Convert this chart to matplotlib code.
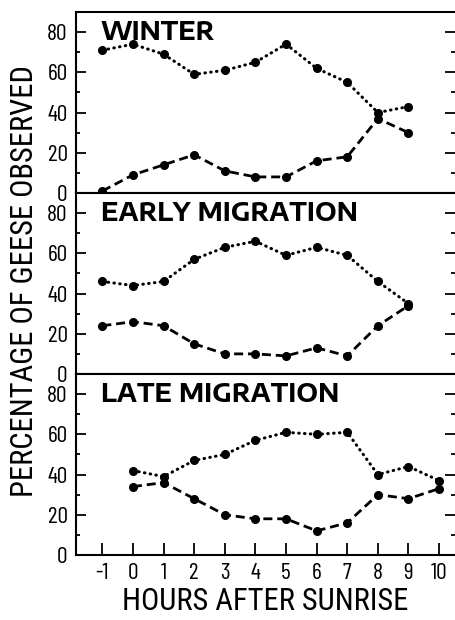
import matplotlib
matplotlib.use("Agg")
import matplotlib.pyplot as plt
from matplotlib.ticker import MultipleLocator

plt.rcParams["lines.scale_dashes"] = False

NARROW = ["Barlow Condensed", "DejaVu Sans"]
LABEL = ["Roboto Condensed", "DejaVu Sans"]
WIDE = ["Encode Sans Expanded", "DejaVu Sans"]

hours = [-1, 0, 1, 2, 3, 4, 5, 6, 7, 8, 9, 10]
xtick_labels = ["-1", "0", "1", "2", "3", "4", "5", "6", "7", "8", "9", "10"]
yticks = [0, 20, 40, 60, 80]

panel_titles = ["WINTER", "EARLY MIGRATION", "LATE MIGRATION"]

# dotted series
winter_dot = [71, 74, 69, 59, 61, 65, 74, 62, 55, 40, 43]
early_dot = [46, 44, 46, 57, 63, 66, 59, 63, 59, 46, 35]
late_dot = [42, 39, 47, 50, 57, 61, 60, 61, 40, 44, 37]

# dashed series
winter_dash = [1, 9, 14, 19, 11, 8, 8, 16, 18, 37, 30]
early_dash = [24, 26, 24, 15, 10, 10, 9, 13, 9, 24, 34]
late_dash = [34, 36, 28, 20, 18, 18, 12, 16, 30, 28, 33]

panels = [
    (winter_dot, winter_dash, hours[:11]),
    (early_dot, early_dash, hours[:11]),
    (late_dot, late_dash, hours[1:]),
]

fig = plt.figure(figsize=(4.55, 6.2), dpi=100)
left, right = 76 / 455, 1.0
top_px, h_px = 12, 181

for i, (dot, dash, xs) in enumerate(panels):
    y0 = 1 - (top_px + (i + 1) * h_px) / 620
    ax = fig.add_axes([left, y0, right - left, h_px / 620])

    ax.plot(xs, dot, color="black", lw=2.2, dashes=(0.4, 3.8),
            dash_capstyle="round", marker="o", ms=5.5, zorder=3)
    ax.plot(xs, dash, color="black", lw=2.0, dashes=(6.5, 3.5),
            marker="o", ms=5.5, zorder=3)

    ax.set_xlim(-1.86, 10.52)
    ax.set_ylim(0, 90)
    ax.set_yticks(yticks)
    ax.yaxis.set_minor_locator(MultipleLocator(10))
    ax.set_yticklabels([str(v) for v in yticks], family=NARROW, fontsize=17)
    ax.tick_params(axis="y", which="major", direction="in", length=7,
                   width=1.3, pad=6, right=True)
    ax.tick_params(axis="y", which="minor", direction="in", length=3,
                   width=1.3, right=True)

    for side in ["left", "bottom", "top"]:
        ax.spines[side].set_linewidth(1.5)
    ax.spines["right"].set_visible(False)

    ax.text(0.065, 0.955, panel_titles[i], transform=ax.transAxes,
            fontsize=17.5, fontweight="bold", ha="left", va="top", family=WIDE)

    if i < 2:
        ax.set_xticks([])
    else:
        ax.set_xticks(hours)
        ax.set_xticklabels(xtick_labels, family=NARROW, fontsize=17)
        ax.tick_params(axis="x", direction="in", length=9, width=1.3, pad=6)
        ax.set_xlabel("HOURS AFTER SUNRISE", family=LABEL, fontsize=22,
                      labelpad=2)

fig.text(25 / 455, 1 - 281 / 620, "PERCENTAGE OF GEESE OBSERVED",
         rotation=90, ha="center", va="center", family=LABEL, fontsize=22)

fig.savefig("out.png", dpi=100)
